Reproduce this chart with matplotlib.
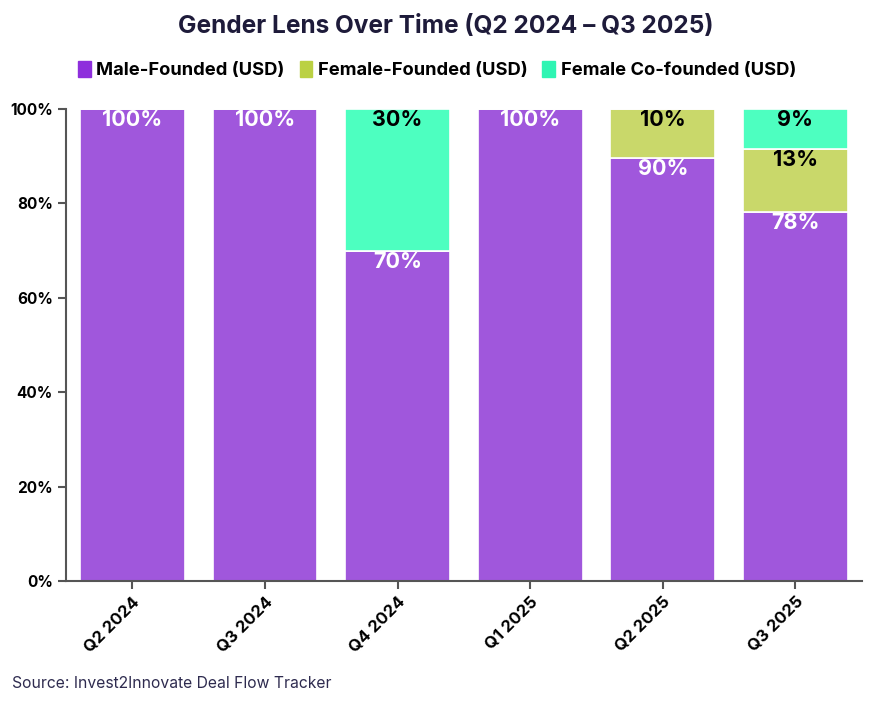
import matplotlib.pyplot as plt
from matplotlib.patches import Patch
from matplotlib.ticker import PercentFormatter
import numpy as np

quarters = ["Q2 2024", "Q3 2024", "Q4 2024", "Q1 2025", "Q2 2025", "Q3 2025"]
male = [100, 100, 69.9, 100, 89.6, 78.2]
female = [0, 0, 0, 0, 10.4, 13.3]
cofounded = [0, 0, 30.1, 0, 0, 8.5]
male_lbl = ["100%", "100%", "70%", "100%", "90%", "78%"]
female_lbl = ["", "", "", "", "10%", "13%"]
co_lbl = ["", "", "30%", "", "", "9%"]

series_names = ["Male-Founded (USD)", "Female-Founded (USD)", "Female Co-founded (USD)"]
bar_colors = ["#A057DC", "#C9D86A", "#4DFFC0"]
legend_colors = ["#8E2FDC", "#BBD143", "#2EF5B3"]
text_colors = ["white", "black", "black"]

plt.rcParams['font.family'] = ['Inter', 'DejaVu Sans']

fig = plt.figure(figsize=(8.92, 7.02), dpi=100)
ax = fig.add_axes([0.074, 0.1724, 0.892, 0.6723])

x = np.arange(len(quarters))
bottom = np.zeros(len(quarters))
for vals, lbls, col, tcol in zip([male, female, cofounded], [male_lbl, female_lbl, co_lbl],
                                 bar_colors, text_colors):
    vals = np.array(vals)
    ax.bar(x, vals, width=0.79, bottom=bottom, color=col, edgecolor="white", linewidth=1.2)
    for i, (v, l) in enumerate(zip(vals, lbls)):
        if v > 0 and l:
            ax.text(x[i], bottom[i] + v - 2.4, l, ha="center", va="center",
                    color=tcol, fontsize=15.5, fontweight="bold")
    bottom += vals

ax.set_xlim(-0.5, len(quarters) - 0.5)
ax.set_ylim(0, 100)
ax.set_yticks([0, 20, 40, 60, 80, 100])
ax.yaxis.set_major_formatter(PercentFormatter(decimals=0))
ax.set_xticks(x)
ax.set_xticklabels(quarters, rotation=45, ha="right", rotation_mode="anchor")
for lab in ax.get_yticklabels():
    lab.set_fontweight("bold")
    lab.set_fontsize(11)
for lab in ax.get_xticklabels():
    lab.set_fontweight("bold")
    lab.set_fontsize(12)
ax.tick_params(axis="both", color="#555555", length=6, width=1.5)
for s in ["top", "right"]:
    ax.spines[s].set_visible(False)
for s in ["left", "bottom"]:
    ax.spines[s].set_color("#555555")
    ax.spines[s].set_linewidth(1.5)

fig.text(0.5, 0.962, "Gender Lens Over Time (Q2 2024 \u2013 Q3 2025)", ha="center", va="center",
         fontsize=17.6, fontweight="bold", color="#1E1B3A")

handles = [Patch(facecolor=c, edgecolor=c) for c in legend_colors]
fig.legend(handles, series_names, loc="center", bbox_to_anchor=(0.49, 0.9), ncol=3,
           frameon=False, handlelength=0.7, handleheight=1.0, handletextpad=0.3,
           columnspacing=0.8, prop={"size": 13.2, "weight": "bold"})

fig.text(0.013, 0.027, "Source: Invest2Innovate Deal Flow Tracker", ha="left", va="center",
         fontsize=11.3, color="#2E2B4F")

fig.savefig("out.png", dpi=100)
